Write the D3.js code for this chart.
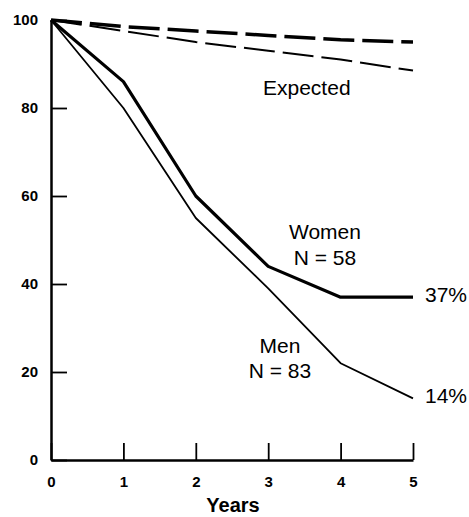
<!DOCTYPE html>
<html>
<head>
<meta charset="utf-8">
<script src="https://cdn.jsdelivr.net/npm/d3@7"></script>
<style>
  body { margin: 0; background: #fff; }
  text { font-family: "Liberation Sans", Arial, sans-serif; fill: #000; }
</style>
</head>
<body>
<svg width="469" height="517"></svg>
<script>
// survival data (percent alive by year)
var years = [0, 1, 2, 3, 4, 5];
var women = [100, 86, 60, 44, 37, 37];
var men = [100, 80, 55, 39, 22, 14];
var expectedWomen = [100, 98.5, 97.5, 96.5, 95.5, 95];
var expectedMen = [100, 97.5, 95, 93, 91, 88.5];
var yTicks = [0, 20, 40, 60, 80, 100];

var svg = d3.select("svg");

var x = d3.scaleLinear().domain([0, 5]).range([51, 413]);
var y = d3.scaleLinear().domain([0, 100]).range([460, 20]);

var line = d3.line()
    .x(function (d, i) { return x(years[i]); })
    .y(function (d) { return y(d); });

// axes: ticks point inward
var yAxis = svg.append("g")
    .attr("transform", "translate(" + x(0) + ",0)")
    .call(d3.axisLeft(y).tickValues(yTicks).tickFormat(d3.format("d"))
        .tickSizeInner(-16).tickSizeOuter(0).tickPadding(13));

var xAxis = svg.append("g")
    .attr("transform", "translate(0," + y(0) + ")")
    .call(d3.axisBottom(x).tickValues(years).tickFormat(d3.format("d"))
        .tickSizeInner(-17).tickSizeOuter(0).tickPadding(16));

[yAxis, xAxis].forEach(function (g) {
    g.select(".domain").attr("stroke", "#000").attr("stroke-width", 2.5);
    g.selectAll(".tick line").attr("stroke", "#000").attr("stroke-width", 1.8);
    g.selectAll(".tick text")
        .style("font-family", "'Liberation Sans', Arial, sans-serif")
        .style("font-size", "15px")
        .style("font-weight", "bold")
        .attr("fill", "#000");
});

svg.append("text")
    .attr("x", 233).attr("y", 512)
    .attr("text-anchor", "middle")
    .style("font-size", "20px").style("font-weight", "bold")
    .text("Years");

// expected curves (dashed)
svg.append("path").datum(expectedWomen)
    .attr("d", line).attr("fill", "none").attr("stroke", "#000")
    .attr("stroke-width", 3.5).attr("stroke-dasharray", "31,8");

svg.append("path").datum(expectedMen)
    .attr("d", line).attr("fill", "none").attr("stroke", "#000")
    .attr("stroke-width", 2).attr("stroke-dasharray", "31,8");

// observed
svg.append("path").datum(women)
    .attr("d", line).attr("fill", "none").attr("stroke", "#000")
    .attr("stroke-width", 3.2).attr("stroke-linejoin", "round");

svg.append("path").datum(men)
    .attr("d", line).attr("fill", "none").attr("stroke", "#000")
    .attr("stroke-width", 1.8).attr("stroke-linejoin", "round");

// labels
var labels = [
    {t: "Expected", x: 263, y: 95, a: "start"},
    {t: "Women", x: 325, y: 239, a: "middle"},
    {t: "N = 58", x: 325, y: 265, a: "middle"},
    {t: "Men", x: 280, y: 353, a: "middle"},
    {t: "N = 83", x: 280, y: 378, a: "middle"},
    {t: "37%", x: 425, y: 302, a: "start"},
    {t: "14%", x: 425, y: 403, a: "start"}
];

svg.selectAll(".lbl")
    .data(labels)
    .enter()
    .append("text")
    .attr("class", "lbl")
    .attr("x", function (d) { return d.x; })
    .attr("y", function (d) { return d.y; })
    .attr("text-anchor", function (d) { return d.a; })
    .style("font-size", "21px")
    .text(function (d) { return d.t; });
</script>
</body>
</html>
